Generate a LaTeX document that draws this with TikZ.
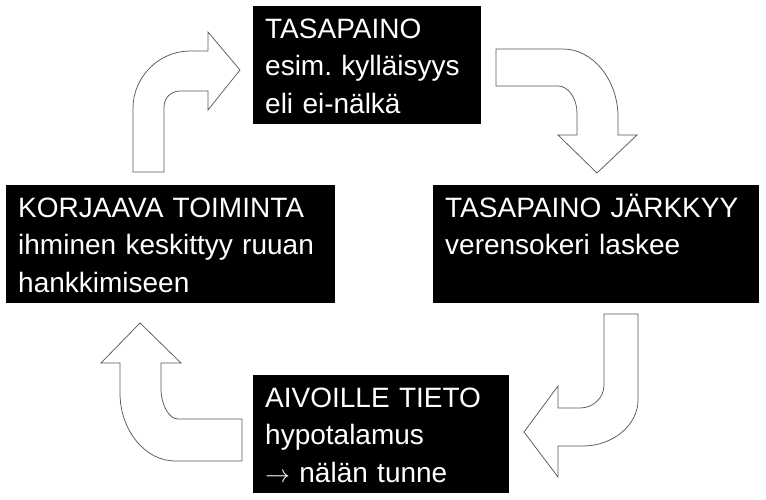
\documentclass[tikz,border=0pt]{standalone}
\usepackage{fontspec}
\setmainfont{Liberation Sans}

\begin{document}
\begin{tikzpicture}[x=1pt,y=-1pt,
    every node/.style={font=\fontsize{28}{37.5}\selectfont}]
  \tikzstyle{box}=[fill=black,text=white,anchor=north west,align=left,
    inner sep=0pt,inner xsep=12pt,text height=32pt,text depth=86pt]
  \tikzstyle{turnarrow}=[draw=black!65,fill=white,line width=0.75pt]

  \useasboundingbox (0,0) rectangle (766,500);

  \node[box,text width=204pt] (tasapaino) at (253,6)   {TASAPAINO\\esim.\ kylläisyys\\eli ei-nälkä};
  \node[box,text width=302pt] (jarkkyy)   at (433,185) {TASAPAINO JÄRKKYY\\verensokeri laskee};
  \node[box,text width=232pt] (aivot)     at (253,375) {AIVOILLE TIETO\\hypotalamus\\$\rightarrow$ nälän tunne};
  \node[box,text width=305pt] (korjaus)   at (6,185)   {KORJAAVA TOIMINTA\\ihminen~keskittyy~ruuan\\hankkimiseen};

  % block arrows round the cycle
  \path[turnarrow] (133,172) -- (133,108) .. controls (133,77) and (159,51) .. (190,51) -- (208,51) -- (208,32)
    -- (240,70) -- (208,110) -- (208,91) -- (180,91) .. controls (171,91) and (164,98) .. (164,107) -- (164,172) -- cycle;
  \path[turnarrow] (496,49) -- (563,49) .. controls (593,49) and (618,80) .. (618,117) -- (618,135) -- (637,135)
    -- (597,173) -- (558,135) -- (577,135) -- (577,113) .. controls (577,98) and (568,86) .. (558,86) -- (496,86) -- cycle;
  \path[turnarrow] (604,314) -- (638,314) -- (638,400) .. controls (638,425) and (613,446) .. (583,446) -- (558,446)
    -- (558,477) -- (524,432) -- (558,386) -- (558,408) -- (580,408) .. controls (593,408) and (604,398) .. (604,385) -- cycle;
  \path[turnarrow] (242,419) -- (178,419) .. controls (169,419) and (161,405) .. (161,388) -- (161,363) -- (181,363)
    -- (140,323) -- (101,363) -- (120,363) -- (120,393) .. controls (120,430) and (145,461) .. (175,461) -- (242,461) -- cycle;
\end{tikzpicture}
\end{document}
